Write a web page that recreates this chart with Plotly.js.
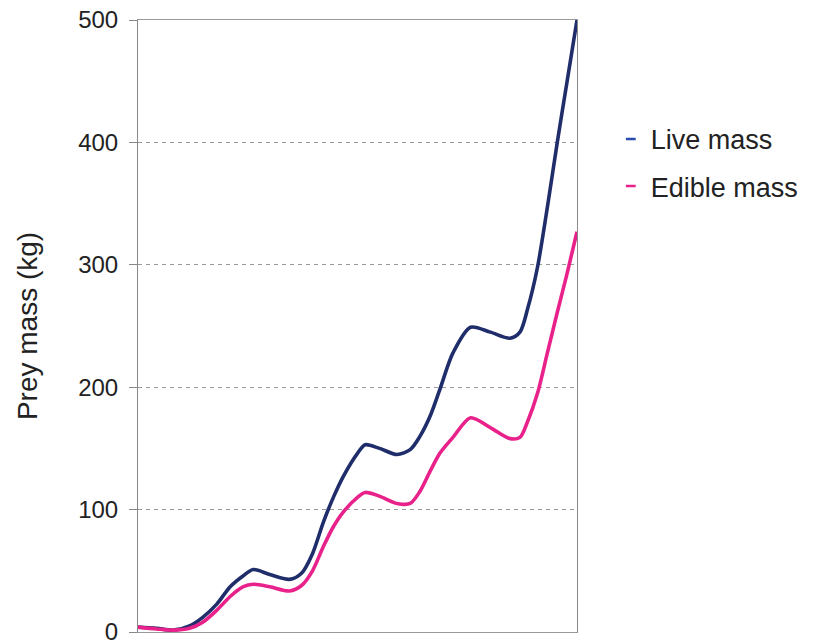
<!DOCTYPE html>
<html>
<head>
<meta charset="utf-8">
<script src="https://cdn.plot.ly/plotly-3.0.1.min.js"></script>
<style>html,body{margin:0;padding:0;background:#fff;}#chart{width:816px;height:644px;}</style>
</head>
<body>
<div id="chart"></div>
<script>
// Age of prey (years) – x positions of the sampled points
const ageYears = [0.00, 0.17, 0.32, 0.47, 0.59, 0.72, 0.84, 0.96, 1.05, 1.20,
                  1.38, 1.49, 1.59, 1.69, 1.78, 1.87, 2.00, 2.07, 2.20, 2.36,
                  2.48, 2.57, 2.66, 2.75, 2.87, 3.03, 3.21, 3.39, 3.48, 3.55,
                  3.64, 3.73, 3.82, 3.91, 4.00];
// Live mass (kg)
const liveMass = [4, 3, 1.5, 5, 12, 23, 37, 46, 51, 47,
                  43, 48, 64, 90, 110, 127, 146, 153, 150, 145,
                  149, 160, 176, 198, 228, 249, 245, 240, 245, 264,
                  298, 347, 400, 450, 500];
// Edible mass (kg)
const edibleMass = [4, 2.5, 1.5, 3, 8, 18, 29, 37, 39, 37,
                    33.5, 38, 50, 70, 86, 98, 110, 114, 111, 105,
                    105, 115, 131, 146, 159, 175, 167, 158, 159, 172,
                    195, 228, 261, 293, 327];
const seriesNames = ['Live mass', 'Edible mass'];
const yTicks = [0, 100, 200, 300, 400, 500];

const liveColor = '#1f2d6b';
const edibleColor = '#e8228a';

const traces = [
  {x: ageYears, y: liveMass, type: 'scatter', mode: 'lines', name: seriesNames[0],
   line: {color: liveColor, width: 3.6, shape: 'spline', smoothing: 0.8}, showlegend: false, legendgroup: 'a'},
  {x: ageYears, y: edibleMass, type: 'scatter', mode: 'lines', name: seriesNames[1],
   line: {color: edibleColor, width: 3.6, shape: 'spline', smoothing: 0.8}, showlegend: false, legendgroup: 'b'},
  // legend entries drawn as short dashes like the original
  {x: [null], y: [null], type: 'scatter', mode: 'markers', name: seriesNames[0], legendgroup: 'a',
   marker: {symbol: 'line-ew', size: 7, line: {color: '#2a4cb0', width: 2.5}}},
  {x: [null], y: [null], type: 'scatter', mode: 'markers', name: seriesNames[1], legendgroup: 'b',
   marker: {symbol: 'line-ew', size: 7, line: {color: edibleColor, width: 2.5}}}
];

const layout = {
  width: 816, height: 644,
  margin: {l: 138, r: 239, t: 20, b: 12, autoexpand: false},
  paper_bgcolor: '#fff', plot_bgcolor: '#fff',
  font: {family: 'Liberation Sans, Arial, sans-serif', color: '#222'},
  showlegend: true,
  legend: {x: 1.077, xanchor: 'left', y: 0.845, yanchor: 'top',
           font: {size: 27, color: '#222'}, tracegroupgap: 9, bgcolor: 'rgba(0,0,0,0)'},
  xaxis: {range: [0, 4], showticklabels: false, ticks: '', showgrid: false, zeroline: false,
          showline: true, linecolor: '#999', linewidth: 1, mirror: true, fixedrange: true},
  yaxis: {range: [0, 500], tickvals: yTicks, ticktext: yTicks.map(String),
          ticks: 'outside', ticklen: 8, tickcolor: '#888', tickfont: {size: 24, color: '#222'},
          ticklabelstandoff: 6, ticklabeloverflow: 'allow',
          showgrid: true, gridcolor: '#999', griddash: '4px,4px', gridwidth: 1, zeroline: false,
          showline: true, linecolor: '#888', linewidth: 1, mirror: true,
          title: {text: 'Prey mass (kg)', font: {size: 28, color: '#222'}, standoff: 32}, fixedrange: true}
};

Plotly.newPlot('chart', traces, layout, {displayModeBar: false, staticPlot: true});
</script>
</body>
</html>
